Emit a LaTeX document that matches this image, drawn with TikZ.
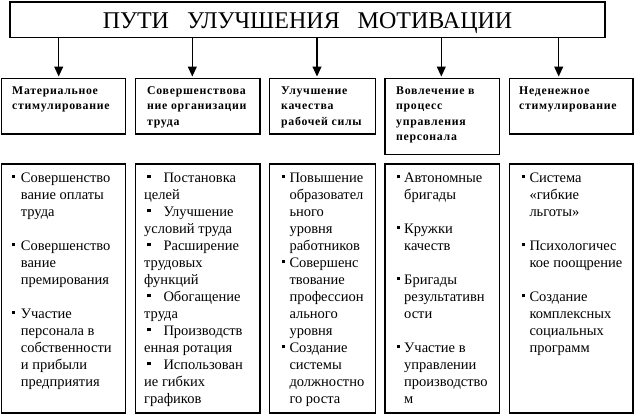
\documentclass[tikz,border=0pt]{standalone}
\usepackage{fontspec}
\setmainfont{Liberation Serif}
\newfontfamily\hdrfont{Liberation Serif}[LetterSpace=6]
\usetikzlibrary{arrows.meta}
\newcommand\sqb{\rule[3.7pt]{3.6pt}{3.6pt}}
\newcommand\bl[1][4.3pt]{\leavevmode\llap{\sqb\hspace{#1}}}
\newcommand\blb{\makebox[19.3pt][l]{\hspace*{2.7pt}\sqb}}
\begin{document}
\begin{tikzpicture}[x=1pt,y=-1pt,
  frame/.style={draw,line width=1.1pt,inner sep=0pt,outer sep=0pt,anchor=north west},
  htext/.style={inner sep=0pt,anchor=base west,font=\hdrfont\bfseries\fontsize{11.8}{15.5}\selectfont},
  btext/.style={inner sep=0pt,anchor=base west,font=\fontsize{14.5}{17}\selectfont},
  arr/.style={line width=1.1pt,-{Triangle[width=9pt,length=10pt]},shorten >=2pt}]
\useasboundingbox (0,0) rectangle (635,415);
% title
\node[frame,minimum width=595pt,minimum height=35.5pt] (tbox) at (10,2) {};
\node[inner sep=0pt,anchor=base,font=\fontsize{24}{28}\selectfont] (ttext) at (307.5,28)
  {ПУТИ\hspace{18pt}УЛУЧШЕНИЯ\hspace{18pt}МОТИВАЦИИ};
% header boxes
\node[frame,minimum width=124pt,minimum height=55.5pt] (h1) at (1.5,78.5) {};
\node[frame,minimum width=124.5pt,minimum height=55.5pt] (h2) at (135.5,78.5) {};
\node[frame,minimum width=106pt,minimum height=55.5pt] (h3) at (269.5,78.5) {};
\node[frame,minimum width=114.5pt,minimum height=76pt] (h4) at (385,78.5) {};
\node[frame,minimum width=123.5pt,minimum height=55.5pt] (h5) at (509.5,78.5) {};
% body boxes
\node[frame,minimum width=124pt,minimum height=249pt] (b1) at (1.5,164) {};
\node[frame,minimum width=124.5pt,minimum height=249pt] (b2) at (135.5,164) {};
\node[frame,minimum width=106pt,minimum height=249pt] (b3) at (269.5,164) {};
\node[frame,minimum width=114.5pt,minimum height=249pt] (b4) at (385,164) {};
\node[frame,minimum width=123.5pt,minimum height=249pt] (b5) at (509.5,164) {};
% arrows
\coordinate (ax1) at (58.7,0);
\coordinate (ax2) at (192.3,0);
\coordinate (ax3) at (317,0);
\coordinate (ax4) at (441.3,0);
\coordinate (ax5) at (558.7,0);
\draw[arr] (tbox.south -| ax1) -- (h1.north -| ax1);
\draw[arr] (tbox.south -| ax2) -- (h2.north -| ax2);
\draw[arr] (tbox.south -| ax3) -- (h3.north -| ax3);
\draw[arr] (tbox.south -| ax4) -- (h4.north -| ax4);
\draw[arr] (tbox.south -| ax5) -- (h5.north -| ax5);
% header texts
\node[htext] (t1) at (12,94) {\parbox[t]{120pt}{Материальное\\стимулирование}};
\node[htext] (t2) at (147,94) {\parbox[t]{120pt}{Совершенствова\\ние организации\\труда}};
\node[htext] (t3) at (281,94) {\parbox[t]{100pt}{Улучшение\\качества\\рабочей силы}};
\node[htext] (t4) at (396,94) {\parbox[t]{100pt}{Вовлечение в\\процесс\\управления\\персонала}};
\node[htext] (t5) at (519,94) {\parbox[t]{110pt}{Неденежное\\стимулирование}};
% body texts
\node[btext] (c1) at (20.7,182) {\parbox[t]{110pt}{%
\bl[5.7pt]Совершенство\\вание оплаты\\труда\\[17pt]%
\bl[5.7pt]Совершенство\\вание\\премирования\\[17pt]%
\bl[5.7pt]Участие\\персонала в\\собственности\\и прибыли\\предприятия}};
\node[btext] (c2) at (144,182) {\parbox[t]{120pt}{%
\blb Постановка\\целей\\%
\blb Улучшение\\условий труда\\%
\blb Расширение\\трудовых\\функций\\%
\blb Обогащение\\труда\\%
\blb Производств\\енная ротация\\%
\blb Использован\\ие гибких\\графиков}};
\node[btext] (c3) at (289.3,182) {\parbox[t]{100pt}{%
\bl Повышение\\образовател\\ьного\\уровня\\работников\\%
\bl Совершенс\\твование\\профессион\\ального\\уровня\\%
\bl Создание\\системы\\должностно\\го роста}};
\node[btext] (c4) at (404,182) {\parbox[t]{100pt}{%
\bl[4pt]Автономные\\бригады\\[17pt]%
\bl[4pt]Кружки\\качеств\\[17pt]%
\bl[4pt]Бригады\\результативн\\ости\\[17pt]%
\bl[4pt]Участие в\\управлении\\производство\\м}};
\node[btext] (c5) at (529.3,182) {\parbox[t]{110pt}{%
\bl Система\\«гибкие\\льготы»\\[17pt]%
\bl Психологичес\\кое поощрение\\[17pt]%
\bl Создание\\комплексных\\социальных\\программ}};
\end{tikzpicture}
\end{document}
